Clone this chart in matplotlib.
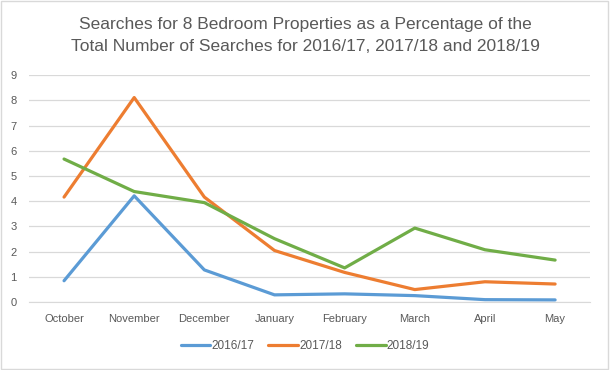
import matplotlib.pyplot as plt
from matplotlib.patches import Rectangle

months = ['October', 'November', 'December', 'January', 'February', 'March', 'April', 'May']
s1617 = [0.84, 4.21, 1.27, 0.28, 0.32, 0.25, 0.09, 0.08]
s1718 = [4.16, 8.11, 4.16, 2.04, 1.17, 0.49, 0.80, 0.71]
s1819 = [5.67, 4.38, 3.94, 2.51, 1.35, 2.93, 2.07, 1.66]
labels = ['2016/17', '2017/18', '2018/19']
colors = ['#5B9BD5', '#ED7D31', '#70AD47']

plt.rcParams['font.family'] = ['Liberation Sans', 'DejaVu Sans']
txt = '#595959'

fig = plt.figure(figsize=(6.1, 3.7), dpi=100)
ax = fig.add_axes([0.0475, 0.184, 0.92, 0.613])

x = range(len(months))
for vals, lab, c in zip([s1617, s1718, s1819], labels, colors):
    ax.plot(x, vals, color=c, lw=2.3, label=lab, solid_capstyle='round', solid_joinstyle='round')

ax.set_xlim(-0.5, 7.5)
ax.set_ylim(0, 9)
ax.set_yticks(range(10))
ax.set_xticks(list(x))
ax.set_xticklabels(months)
ax.grid(axis='y', color='#D9D9D9', lw=0.9)
ax.set_axisbelow(True)
for s in ['top', 'right', 'left']:
    ax.spines[s].set_visible(False)
ax.spines['bottom'].set_color('#D9D9D9')
ax.tick_params(length=0, labelsize=8, colors=txt)
ax.tick_params(axis='x', pad=9)
ax.tick_params(axis='y', pad=9)

fig.suptitle('Searches for 8 Bedroom Properties as a Percentage of the\nTotal Number of Searches for 2016/17, 2017/18 and 2018/19',
             y=0.955, fontsize=12.5, color=txt, linespacing=1.6)

fig.legend(loc='center', bbox_to_anchor=(0.5, 0.065), ncol=3, frameon=False,
           fontsize=8.5, labelcolor=txt, handlelength=2.5, columnspacing=1.2, handletextpad=0.1)

fig.patches.append(Rectangle((0.002, 0.003), 0.995, 0.993, transform=fig.transFigure,
                             fill=False, edgecolor='#D9D9D9', lw=1))

fig.savefig('out.png', dpi=100)
